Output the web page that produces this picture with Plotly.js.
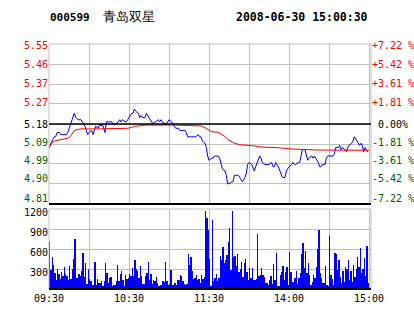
<!DOCTYPE html>
<html><head><meta charset="utf-8">
<script src="https://cdn.plot.ly/plotly-3.0.1.min.js"></script>
<style>html,body{margin:0;padding:0;background:#fff;overflow:hidden}</style>
</head><body><div id="chart" style="width:414px;height:314px"></div>
<script>
const stockCode = "000599";
const stockName = "青岛双星";
const stamp = "2008-06-30 15:00:30";
const prevClose = 5.18;
const pctSteps = [-7.22, -5.42, -3.61, -1.81, 0, 1.81, 3.61, 5.42, 7.22];
const priceTicks = ["4.81", "4.90", "4.99", "5.09", "5.18", "5.27", "5.37", "5.46", "5.55"];
const pctTicks = ["-7.22 %", "-5.42 %", "-3.61 %", "-1.81 %", "&nbsp;0.00%", "+1.81 %", "+3.61 %", "+5.42 %", "+7.22 %"];
const timeTickVals = [0, 30, 60, 90, 120, 150, 180, 210, 240];
const timeTickText = ["09:30", "", "10:30", "", "11:30", "", "14:00", "", "15:00"];
const volTicks = [300, 600, 900, 1200];

// morning session (minutes after 09:30)
const amTime = [0,2,3,4,5,6,8,9,11,13,14,15,17,18,19,20,22,24,25,27,28,29,30,32,33,34,35,37,38,39,40,41,42,43,44,45,47,48,49,50,52,53,54,55,57,58,59,60,62,63,64,65,67,68,69,70,72,73,74,75,77,78,79,80,82,83,84,85,87,88,89,90,92,93,94,95,97,98,100,102,103,104,107,109,110,112,113,114,115,117,118,119,120];
const amPrice = [5.07,5.10,5.11,5.12,5.12,5.14,5.14,5.13,5.13,5.13,5.14,5.16,5.20,5.22,5.23,5.21,5.20,5.20,5.19,5.17,5.15,5.13,5.14,5.15,5.13,5.15,5.17,5.16,5.18,5.17,5.18,5.16,5.14,5.19,5.19,5.19,5.19,5.18,5.18,5.18,5.19,5.20,5.19,5.20,5.19,5.19,5.20,5.21,5.23,5.23,5.25,5.24,5.23,5.21,5.22,5.21,5.21,5.23,5.22,5.21,5.19,5.18,5.19,5.19,5.20,5.19,5.20,5.19,5.18,5.18,5.19,5.20,5.19,5.18,5.17,5.16,5.16,5.15,5.15,5.15,5.14,5.12,5.12,5.12,5.12,5.13,5.12,5.12,5.10,5.09,5.07,5.03,5.01];
// afternoon session (13:00 drawn at minute 120)
const pmTime = [120,122,123,124,125,127,128,129,130,132,133,134,135,137,138,139,140,142,143,144,145,147,148,149,150,152,153,154,155,157,158,159,160,162,164,165,167,168,169,170,172,173,174,175,177,178,179,180,182,183,184,185,187,188,189,190,192,193,194,195,197,198,199,200,202,203,204,205,207,208,209,210,213,214,215,217,218,219,220,222,223,224,225,227,228,229,230,232,233,234,235,236,237,238,239];
const pmPrice = [5.01,5.02,5.02,5.03,5.03,5.03,5.02,4.99,4.97,4.96,4.94,4.90,4.90,4.91,4.91,4.94,4.94,4.94,4.93,4.92,4.91,4.93,4.95,4.99,5.00,4.99,4.97,4.96,4.98,5.02,5.03,5.02,5.00,4.99,4.99,4.99,5.00,4.98,4.98,5.00,4.98,4.96,4.94,4.93,4.93,4.96,4.97,4.98,4.99,5.00,4.99,4.99,5.00,5.00,5.03,5.06,5.06,5.04,5.01,5.02,5.03,5.02,5.03,5.02,5.00,4.98,4.98,4.99,4.99,5.02,5.03,5.03,5.03,5.04,5.07,5.07,5.08,5.06,5.07,5.06,5.05,5.07,5.08,5.09,5.10,5.12,5.11,5.09,5.08,5.09,5.08,5.05,5.07,5.06,5.05];

const avgTime = [0,2,4,7,9,12,14,16,17,18,19,22,24,37,49,59,62,64,69,72,94,104,114,117,119,122,127,129,132,134,137,139,142,144,152,159,172,182,202,214,240];
const avgPrice = [5.066,5.090,5.101,5.105,5.108,5.110,5.113,5.121,5.132,5.144,5.150,5.155,5.157,5.157,5.157,5.160,5.164,5.169,5.172,5.175,5.175,5.172,5.171,5.163,5.155,5.144,5.141,5.133,5.121,5.108,5.097,5.090,5.085,5.082,5.079,5.072,5.069,5.063,5.058,5.058,5.057];

const volTime = [0,1,2,3,4,5,6,7,8,9,10,11,12,13,14,15,16,17,18,19,20,21,22,23,24,25,26,27,28,29,30,31,32,33,34,35,36,37,38,39,40,41,42,43,44,45,46,47,48,49,50,51,52,53,54,55,56,57,58,59,60,61,62,63,64,65,66,67,68,69,70,71,72,73,74,75,76,77,78,79,80,81,82,83,84,85,86,87,88,89,90,91,92,93,94,95,96,97,98,99,100,101,102,103,104,105,106,107,108,109,110,111,112,113,114,115,116,117,118,119,120,121,122,123,124,125,126,127,128,129,130,131,132,133,134,135,136,137,138,139,140,141,142,143,144,145,146,147,148,149,150,151,152,153,154,155,156,157,158,159,160,161,162,163,164,165,166,167,168,169,170,171,172,173,174,175,176,177,178,179,180,181,182,183,184,185,186,187,188,189,190,191,192,193,194,195,196,197,198,199,200,201,202,203,204,205,206,207,208,209,210,211,212,213,214,215,216,217,218,219,220,221,222,223,224,225,226,227,228,229,230,231,232,233,234,235,236,237,238,239];
const volume = [705,290,480,355,240,130,300,220,155,250,190,325,230,195,140,340,150,295,450,750,165,165,220,195,270,540,180,390,70,300,150,120,55,60,405,55,150,90,90,120,50,120,390,240,90,170,185,50,55,55,120,360,120,230,270,130,50,210,155,165,230,200,315,195,435,300,270,165,340,190,70,70,190,240,405,140,225,70,130,120,180,90,40,60,55,120,100,405,120,55,70,290,55,55,90,55,130,140,205,190,120,70,55,70,530,360,480,270,155,170,205,130,155,90,205,155,180,1170,1070,890,455,50,1040,120,170,230,120,170,490,440,630,395,430,510,705,910,290,1170,480,500,345,520,255,305,410,180,390,455,255,140,320,165,320,140,140,150,820,190,205,320,205,180,90,90,60,140,200,80,380,140,540,40,40,205,255,340,140,255,330,55,555,255,100,100,170,270,70,170,240,520,690,320,570,240,390,205,55,100,205,170,330,605,880,240,160,90,90,340,65,40,790,205,155,55,540,530,290,430,180,90,265,100,330,305,440,140,265,100,355,180,305,480,330,610,240,300,465,190,645,90];

// label placement style (pixels, positive = down), bottom label first
const labelNudgePx = [-5.5, -5, -3, -1.5, 0, -1.5, -0.5, 0, 1.2];

const RED = "#ff0000", GREEN = "#006000", BLACK = "#000000";
const lo = prevClose * (1 + pctSteps[0] / 100) - 0.0005;
const hi = prevClose * (1 + pctSteps[pctSteps.length - 1] / 100) + 0.0005;
const tickVals = pctSteps.map(p => prevClose * (1 + p / 100));
const pxPerUnit = 160 / (hi - lo);
const labelVals = tickVals.map((v, i) => v - labelNudgePx[i] / pxPerUnit);
const colorOf = p => p > 0 ? RED : (p < 0 ? GREEN : BLACK);
const leftText = priceTicks.map((t, i) => `<span style="color:${colorOf(pctSteps[i])}">${t}</span>`);
const rightText = pctTicks.map((t, i) => `<span style="color:${colorOf(pctSteps[i])}">${t}</span>`);

const mono = "DejaVu Sans Mono, Liberation Mono, monospace";
const grid = "#c0c0c0";
const tf = {family: mono, size: 10, color: "#000"};

const traces = [
  {type: "bar", x: volTime, y: volume, xaxis: "x", yaxis: "y3", width: 0.9, offset: 0,
   marker: {color: "#0000ff", line: {width: 0}}, hoverinfo: "skip"},
  {type: "scatter", mode: "lines", x: amTime, y: amPrice, xaxis: "x", yaxis: "y",
   line: {color: "#0000ff", width: 1}, hoverinfo: "skip"},
  {type: "scatter", mode: "lines", x: pmTime, y: pmPrice, xaxis: "x", yaxis: "y2",
   line: {color: "#0000ff", width: 1}, hoverinfo: "skip"},
  {type: "scatter", mode: "lines", x: avgTime, y: avgPrice, xaxis: "x", yaxis: "y4",
   line: {color: "#ff0000", width: 1}, hoverinfo: "skip"}
];

const pd0 = (289 - 204) / 245;
const vd1 = (289 - 209) / 245;

const layout = {
  width: 414, height: 314,
  margin: {l: 49, r: 43, t: 44, b: 25, pad: 0},
  paper_bgcolor: "#fff", plot_bgcolor: "#fff",
  showlegend: false, bargap: 0,
  title: {
    text: `<b>${stockCode}</b>&nbsp;&nbsp;<span style="font-size:13px;font-weight:normal">${stockName}</span>`,
    x: (50 - 49) / 322, xref: "paper", xanchor: "left",
    y: 1 - 17 / 314, yref: "container", yanchor: "middle",
    font: {family: mono, size: 11, color: "#000"}
  },
  xaxis: {
    domain: [0, 1], range: [0, 241.5], anchor: "y3",
    tickmode: "array", tickvals: timeTickVals, ticktext: timeTickText,
    showgrid: true, gridcolor: grid, gridwidth: 1, zeroline: false, showline: false,
    ticks: "", ticklabelstandoff: 2, tickfont: tf, fixedrange: true
  },
  yaxis: {
    domain: [pd0, 1], range: [lo, hi], anchor: "x",
    tickmode: "array", tickvals: labelVals, ticktext: leftText,
    showgrid: false, zeroline: false, showline: false,
    ticks: "", tickfont: tf, fixedrange: true
  },
  yaxis2: {
    overlaying: "y", side: "right", range: [lo, hi], anchor: "x",
    tickmode: "array", tickvals: labelVals, ticktext: rightText,
    showgrid: false, zeroline: false, showline: false,
    ticks: "", tickfont: tf, fixedrange: true
  },
  yaxis4: {
    overlaying: "y", side: "left", range: [lo, hi], anchor: "x",
    tickmode: "array", tickvals: tickVals, showticklabels: false,
    showgrid: true, gridcolor: grid, gridwidth: 1, zeroline: false, showline: false,
    ticks: "", fixedrange: true
  },
  yaxis3: {
    domain: [0, vd1], range: [0, 1200], anchor: "x",
    tickmode: "array", tickvals: volTicks, ticktext: volTicks.map(String),
    showgrid: true, gridcolor: grid, gridwidth: 1, zeroline: false, showline: false,
    ticks: "", ticklabelshift: 3, tickfont: tf, fixedrange: true
  },
  shapes: [
    {type: "rect", xref: "x domain", yref: "y domain", x0: 0, x1: 1, y0: 0, y1: 1, line: {color: grid, width: 1}},
    {type: "rect", xref: "x domain", yref: "y3 domain", x0: 0, x1: 1, y0: 0, y1: 1, line: {color: grid, width: 1}},
    {type: "line", xref: "x domain", yref: "y", x0: 0, x1: 1, y0: prevClose, y1: prevClose, line: {color: BLACK, width: 1.5}},
    {type: "line", xref: "x domain", yref: "y domain", x0: 0, x1: 1, y0: 0, y1: 0, line: {color: BLACK, width: 2}},
    {type: "line", xref: "x domain", yref: "y3 domain", x0: 0, x1: 1, y0: 0, y1: 0, line: {color: BLACK, width: 2}}
  ],
  annotations: [
    {text: `<b>${stamp}</b>`, xref: "paper", yref: "paper", x: (370 - 49) / 322, xanchor: "right",
     y: (289 - 17) / 245, yanchor: "middle", showarrow: false,
     font: {family: mono, size: 11.5, color: "#000"}}
  ]
};

Plotly.newPlot("chart", traces, layout, {staticPlot: true, displayModeBar: false});
</script>
</body></html>
